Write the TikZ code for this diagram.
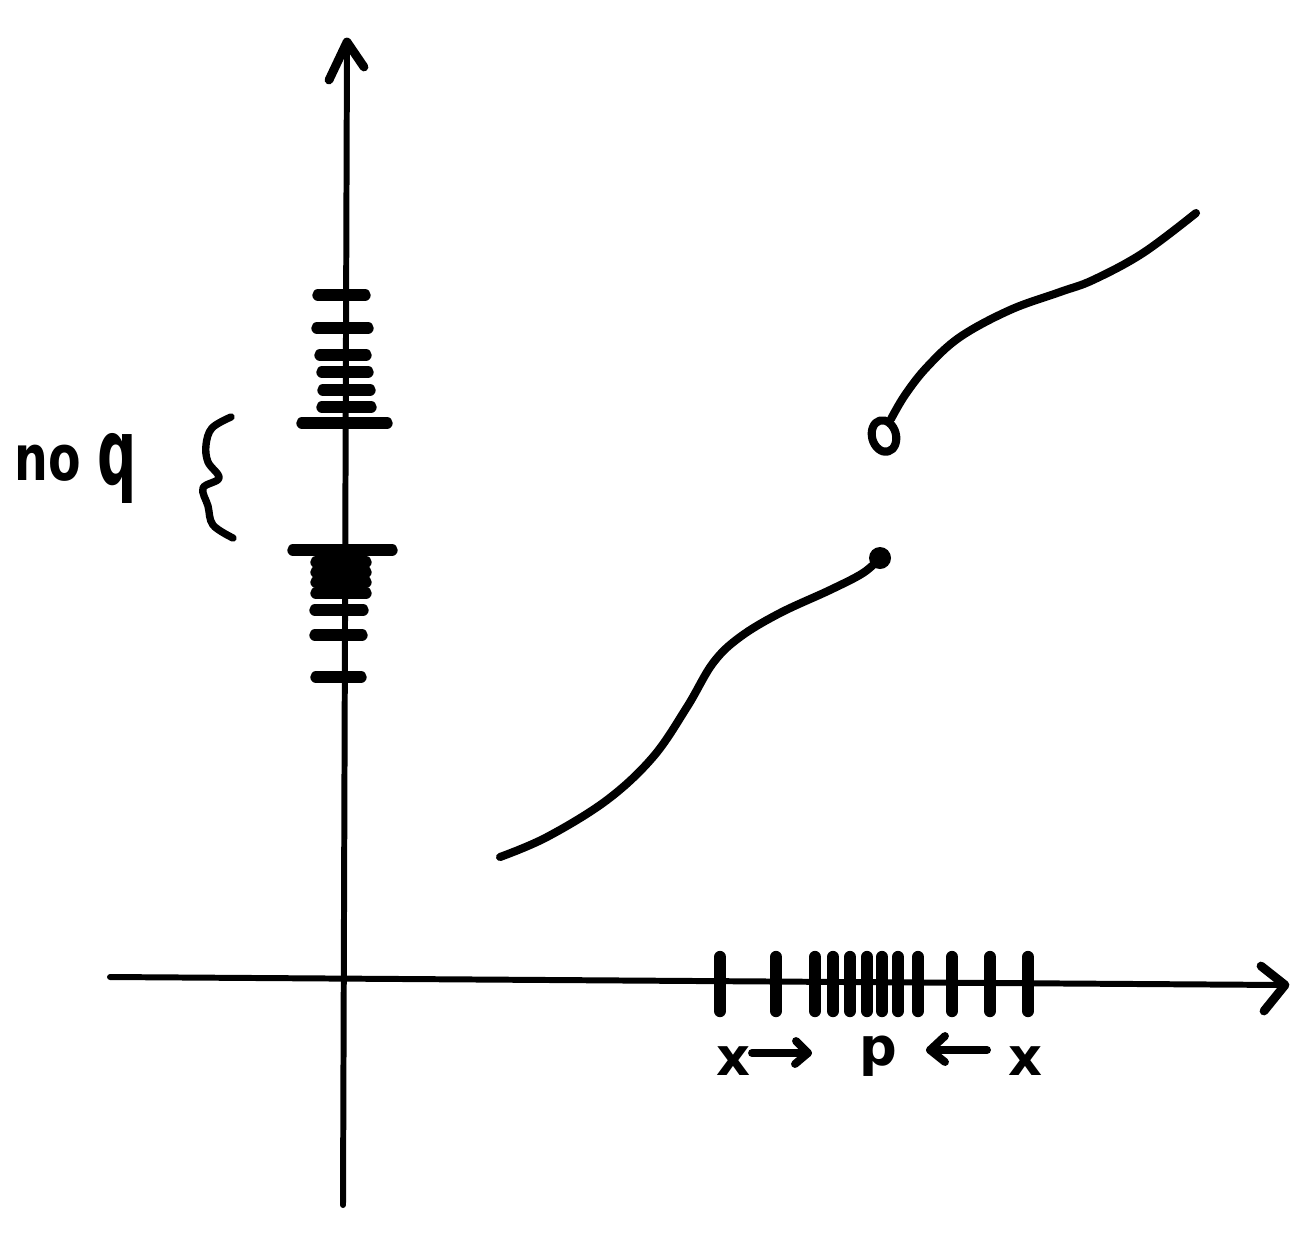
\documentclass[tikz,border=0pt]{standalone}
\usepackage{fontspec}
\setmainfont{DejaVu Sans}
\usetikzlibrary{arrows.meta}
\begin{document}
\begin{tikzpicture}[x=0.02cm,y=-0.02cm,
  axis/.style={line width=3.4pt,line cap=round,line join=round},
  curve/.style={line width=4.6pt,line cap=round,line join=round},
  ytick/.style={line width=6.5pt,line cap=round},
  xtick/.style={line width=7pt,line cap=round},
  hand/.style={font=\fontsize{30}{36}\selectfont\bfseries,inner sep=0pt},
  smallarrow/.style={line width=4.5pt,line cap=round,line join=round}]
\useasboundingbox (0,0) rectangle (1308,1232);
% axes
\coordinate (ytop) at (347,42);
\coordinate (ybot) at (343,1205);
\coordinate (ytl) at (329,80);
\coordinate (ytr) at (364,67);
\coordinate (xleft) at (110,977);
\coordinate (xright) at (1285,985);
\coordinate (xtu) at (1261,966);
\coordinate (xtd) at (1264,1011);
\draw[axis] (ybot) -- (ytop);
\draw[axis,line width=5pt] (ytl) -- (ytop) -- (ytr);
\draw[axis] (xleft) -- (xright);
\draw[axis,line width=5pt] (xtu) -- (xright) -- (xtd);
% y ticks
\foreach \y/\a/\b in {295/318/365, 328/317/368, 355/320/366, 372/322/368, 390/323/370, 407/322/371,
  562/316/366, 572/316/366, 582/316/366, 593/316/366, 610/315/363, 635/315/362, 677/316/361}
  \draw[ytick] (\a,\y) -- (\b,\y);
\draw[ytick] (302,423) -- (387,423);
\draw[ytick] (293,550) -- (392,550);
% x ticks
\foreach \x in {720,776,815,833,850,867,882,898,918,952,990,1028}
  \draw[xtick] (\x,957) -- (\x,1011);
% lower curve
\coordinate (lstart) at (500,857);
\coordinate (ldot) at (880,558);
\draw[curve] plot[smooth,tension=0.6] coordinates {(lstart) (547,837) (607,800) (653,757) (687,707) (713,663) (740,637) (780,613) (830,590) (863,573) (ldot)};
\fill (ldot) circle (11);
% upper curve
\coordinate (ucirc) at (884,436);
\coordinate (uend) at (1196,213);
\draw[curve] (ucirc) ellipse[x radius=12,y radius=16,rotate=15];
\draw[curve] plot[smooth,tension=0.6] coordinates {(891,419) (905,395) (927,367) (960,337) (1010,310) (1060,292) (1093,280) (1143,253) (uend)};
% brace
\draw[curve,line width=4.2pt] plot[smooth,tension=0.6] coordinates {(231,417) (212,428) (206,445) (208,462) (219,478) (203,488) (208,506) (213,525) (233,538)};
% no q label
\node[hand,anchor=base west] (no) at (14,480) {\fontsize{36}{40}\selectfont\scalebox{0.75}[1]{no}};
\node[hand,anchor=base west] (q) at (97,484) {\fontsize{52}{60}\selectfont\scalebox{0.6}[1]{q}};
% x -> p <- x
\node[hand] (xl) at (733,1061) {x};
\node[hand] (pp) at (878,1056) {p};
\node[hand] (xr) at (1025,1061) {x};
\coordinate (a1s) at (752,1053);
\coordinate (a1e) at (808,1053);
\coordinate (a2s) at (987,1050);
\coordinate (a2e) at (930,1050);
\draw[smallarrow] (a1s) -- (a1e);
\draw[smallarrow] (796,1041) -- (a1e) -- (795,1064);
\draw[smallarrow] (a2s) -- (a2e);
\draw[smallarrow] (945,1036) -- (a2e) -- (945,1062);
\end{tikzpicture}
\end{document}
